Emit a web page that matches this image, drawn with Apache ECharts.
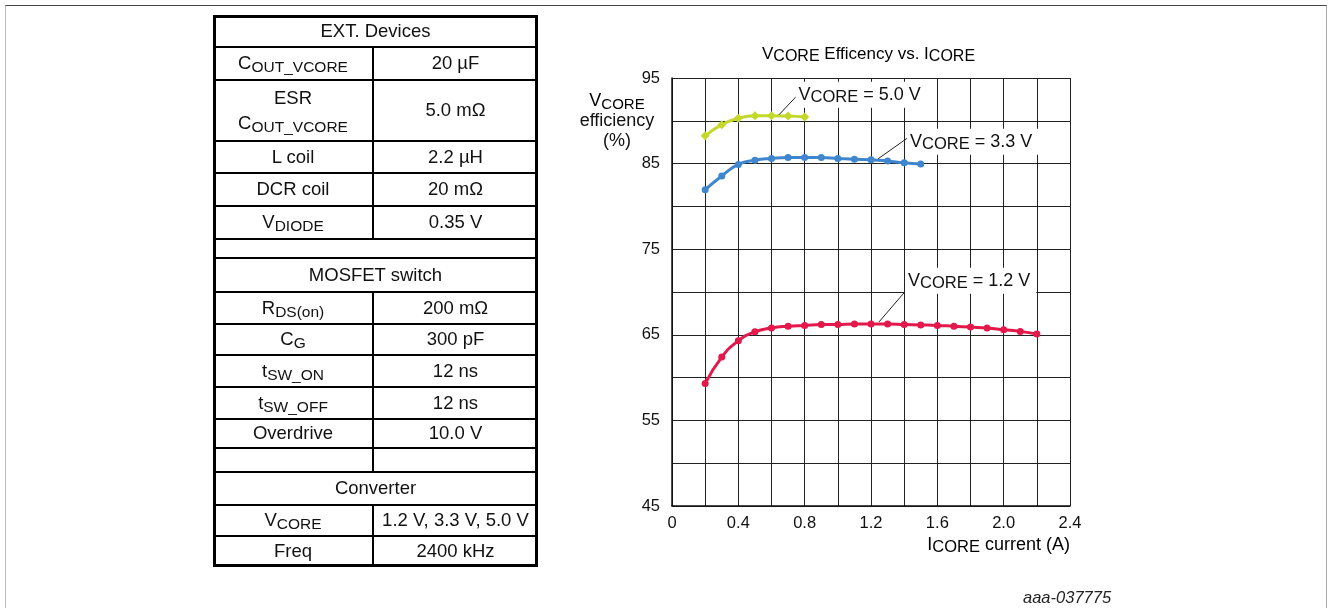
<!DOCTYPE html>
<html>
<head>
<meta charset="utf-8">
<script src="https://cdn.jsdelivr.net/npm/echarts@6/dist/echarts.min.js"></script>
<style>
html,body{margin:0;padding:0;background:#fff;}
body{width:1328px;height:608px;overflow:hidden;position:relative;font-family:"Liberation Sans",Arial,sans-serif;}
#chart{position:absolute;left:0;top:0;width:1328px;height:608px;}
#frame{position:absolute;left:5px;top:5px;width:1320px;height:620px;border-top:1px solid #444;border-left:1px solid #bbb;border-right:1px solid #aaa;pointer-events:none;}
.cell{position:absolute;display:flex;align-items:center;justify-content:center;text-align:center;font-size:18.5px;color:#111;}
.cell > div{line-height:1.32;}
.sub{font-size:15.5px;vertical-align:-3px;line-height:1;}
.hl{position:absolute;background:#000;}
#tblbox{position:absolute;left:213px;top:15px;width:325px;height:552px;border:3px solid #000;box-sizing:border-box;}
#foot{position:absolute;left:1023px;top:588px;font-size:16.5px;font-style:italic;color:#222;}
</style>
</head>
<body>
<div id="chart"></div>
<div id="frame"></div>
<div id="tbl"></div>
<div id="foot">aaa-037775</div>
<script>
// ---- Data ----
const current12 = [0.2,0.3,0.4,0.5,0.6,0.7,0.8,0.9,1.0,1.1,1.2,1.3,1.4,1.5,1.6,1.7,1.8,1.9,2.0,2.1,2.2];
const eff12 = [59.3,62.4,64.3,65.35,65.8,66.0,66.1,66.2,66.2,66.25,66.25,66.25,66.2,66.15,66.1,66.0,65.9,65.8,65.6,65.4,65.1];
const current33 = [0.2,0.3,0.4,0.5,0.6,0.7,0.8,0.9,1.0,1.1,1.2,1.3,1.4,1.5];
const eff33 = [81.95,83.55,84.9,85.4,85.6,85.7,85.7,85.7,85.6,85.5,85.45,85.3,85.1,84.95];
const current50 = [0.2,0.3,0.4,0.5,0.6,0.7,0.8];
const eff50 = [88.25,89.55,90.3,90.6,90.6,90.55,90.45];
const seriesNames = ['1.2 V','3.3 V','5.0 V'];
const xTickLabels = ['0','0.4','0.8','1.2','1.6','2.0','2.4'];
const yTickLabels = ['45','55','65','75','85','95'];

const tableLabels = ['EXT. Devices','C|OUT_VCORE','ESR\nC|OUT_VCORE','L coil','DCR coil','V|DIODE','','MOSFET switch','R|DS(on)','C|G','t|SW_ON','t|SW_OFF','Overdrive','','Converter','V|CORE','Freq'];
const tableValues = [null,'20 µF','5.0 mΩ','2.2 µH','20 mΩ','0.35 V',null,null,'200 mΩ','300 pF','12 ns','12 ns','10.0 V','',null,'1.2 V, 3.3 V, 5.0 V','2400 kHz'];

// ---- Table (layout) ----
const rowEdges = [15,47,80,141,173,206,239,258,292,324,355,387,419,448,472,505,536,567];
const tblLeft = 213, tblRight = 538, colDiv = 373;
const tbl = document.getElementById('tbl');
function fmtLabel(s){
  return '<div>' + s.split('\n').map(line => {
    const p = line.split('|');
    return p.length > 1 ? p[0] + '<span class="sub">' + p[1] + '</span>' : p[0];
  }).join('<br>') + '</div>';
}
let html = '<div id="tblbox"></div>';
for (let i = 0; i < tableLabels.length; i++) {
  const y0 = rowEdges[i], y1 = rowEdges[i+1];
  if (i > 0) html += `<div class="hl" style="left:${tblLeft}px;top:${y0-1}px;width:${tblRight-tblLeft}px;height:2px"></div>`;
  if (tableValues[i] === null) {
    html += `<div class="cell" style="left:${tblLeft}px;top:${y0}px;width:${tblRight-tblLeft}px;height:${y1-y0}px">${fmtLabel(tableLabels[i])}</div>`;
  } else {
    html += `<div class="cell" style="left:${tblLeft}px;top:${y0}px;width:${colDiv-tblLeft}px;height:${y1-y0}px">${fmtLabel(tableLabels[i])}</div>`;
    html += `<div class="cell" style="left:${colDiv}px;top:${y0}px;width:${tblRight-colDiv}px;height:${y1-y0}px">${fmtLabel(tableValues[i])}</div>`;
    html += `<div class="hl" style="left:${colDiv-1}px;top:${y0}px;width:2px;height:${y1-y0}px"></div>`;
  }
}
tbl.innerHTML = html;

// ---- Chart ----
const zip = (xs, ys) => xs.map((x, i) => [x, ys[i]]);
const FONT = 'Liberation Sans';
const txtColor = '#111';
const richTitle = {
  v: {fontSize: 17, fontFamily: FONT, color: txtColor, lineHeight: 21},
  s: {fontSize: 16, fontFamily: FONT, color: txtColor, lineHeight: 15, verticalAlign: 'bottom'}
};
const richBig = {
  v: {fontSize: 18, fontFamily: FONT, color: txtColor, lineHeight: 22},
  s: {fontSize: 16.5, fontFamily: FONT, color: txtColor, lineHeight: 16, verticalAlign: 'bottom'}
};
const richName = {
  v: {fontSize: 18, fontFamily: FONT, color: txtColor, lineHeight: 22},
  s: {fontSize: 15, fontFamily: FONT, color: txtColor, lineHeight: 15, verticalAlign: 'bottom'}
};
function vcoreLabel(name){ return '{v|V}{s|CORE}{v| = ' + name + '}'; }
function annot(name, labelCoord, from, to){
  return {
    markPoint: {
      symbol: 'circle', symbolSize: 0, silent: true, animation: false,
      data: [{coord: labelCoord}],
      label: {show: true, position: 'right', distance: 0, formatter: vcoreLabel(name),
        backgroundColor: '#fff', padding: [2, 6, 2, 3], rich: richBig}
    },
    markLine: {
      symbol: ['none','none'], silent: true, animation: false,
      lineStyle: {color: '#222', width: 1, type: 'solid'},
      label: {show: false},
      data: [[{coord: from}, {coord: to}]]
    }
  };
}
const colors = ['#e3184b', '#3f86cf', '#c3d82a'];
const chart = echarts.init(document.getElementById('chart'), null, {renderer: 'canvas'});
const option = {
  animation: false,
  backgroundColor: '#fff',
  grid: {left: 672, right: 258, top: 78, bottom: 102, containLabel: false},
  xAxis: {
    type: 'value', min: 0, max: 2.4, interval: 0.2,
    axisLine: {show: true, onZero: false, lineStyle: {color: '#111', width: 1.5}},
    axisTick: {show: false},
    splitLine: {show: true, lineStyle: {color: '#222', width: 1}},
    axisLabel: {
      margin: 9, fontSize: 16.5, fontFamily: FONT, color: txtColor, showMinLabel: true, showMaxLabel: true,
      formatter: v => { const k = Math.round(v * 10); return k % 4 === 0 ? xTickLabels[k / 4] : ''; }
    }
  },
  yAxis: {
    type: 'value', min: 45, max: 95, interval: 5,
    axisLine: {show: true, lineStyle: {color: '#111', width: 1.5}},
    axisTick: {show: false},
    splitLine: {show: true, lineStyle: {color: '#222', width: 1}},
    axisLabel: {
      margin: 12, fontSize: 16.5, fontFamily: FONT, color: txtColor, showMinLabel: true, showMaxLabel: true,
      formatter: v => { const k = Math.round(v - 45); return k % 10 === 0 ? yTickLabels[k / 10] : ''; }
    }
  },
  graphic: [
    {type: 'text', left: 762, top: 46, style: {text: '{v|V}{s|CORE}{v| Efficency vs. I}{s|CORE}', rich: richTitle}},
    {type: 'text', x: 617, y: 101, style: {text: '{v|V}{s|CORE}', rich: richName, align: 'center', verticalAlign: 'middle'}},
    {type: 'text', x: 617, y: 121, style: {text: 'efficiency', font: '18px ' + FONT, fill: txtColor, align: 'center', verticalAlign: 'middle'}},
    {type: 'text', x: 617, y: 141, style: {text: '(%)', font: '18px ' + FONT, fill: txtColor, align: 'center', verticalAlign: 'middle'}},
    {type: 'text', x: 1070, y: 545, style: {text: '{v|I}{s|CORE}{v| current (A)}', rich: richBig, align: 'right', verticalAlign: 'middle'}}
  ],
  series: [
    Object.assign({
      name: seriesNames[0], type: 'line', smooth: true, data: zip(current12, eff12),
      symbol: 'circle', symbolSize: 7, lineStyle: {width: 3, color: colors[0]}, itemStyle: {color: colors[0]}
    }, annot(seriesNames[0], [1.405, 71.3], [1.248, 66.5], [1.43, 70.6])),
    Object.assign({
      name: seriesNames[1], type: 'line', smooth: true, data: zip(current33, eff33),
      symbol: 'circle', symbolSize: 7, lineStyle: {width: 3, color: colors[1]}, itemStyle: {color: colors[1]}
    }, annot(seriesNames[1], [1.417, 87.55], [1.243, 85.56], [1.45, 88.4])),
    Object.assign({
      name: seriesNames[2], type: 'line', smooth: true, data: zip(current50, eff50),
      symbol: 'diamond', symbolSize: 9, lineStyle: {width: 3, color: colors[2]}, itemStyle: {color: colors[2]}
    }, annot(seriesNames[2], [0.745, 93.05], [0.645, 90.7], [0.752, 92.9]))
  ]
};
chart.setOption(option);
</script>
</body>
</html>
